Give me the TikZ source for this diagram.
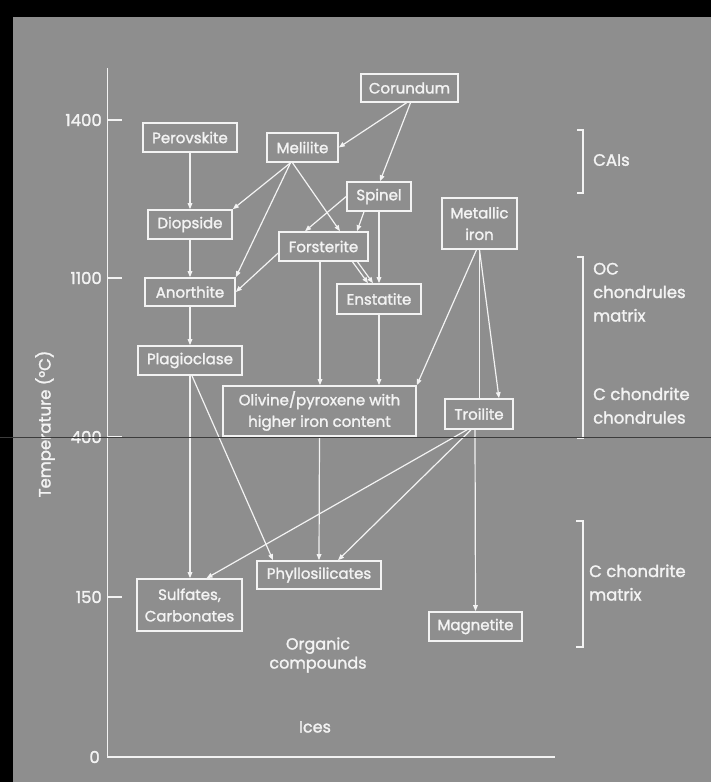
\documentclass[tikz,border=0pt]{standalone}
\usepackage{fontspec}
\setmainfont{Poppins}[FakeBold=1.6]
\usetikzlibrary{arrows.meta}
\definecolor{bg}{RGB}{142,142,142}
\definecolor{fg}{RGB}{243,243,243}
\definecolor{scanline}{RGB}{60,60,60}
\begin{document}
\begin{tikzpicture}[x=1pt,y=-1pt,
  box/.style args={#1/#2}{draw=fg, line width=1.6pt, fill=bg, text=fg,
    minimum width=#1, minimum height=#2, inner sep=0pt, align=center,
    font=\fontsize{15}{21.5}\selectfont},
  lab/.style={text=fg, inner sep=0pt, align=left, font=\fontsize{16.5}{23.5}\selectfont},
  conn/.style={draw=fg, line width=1.2pt, -{Triangle[length=6pt,width=4.6pt]}},
  plain/.style={draw=fg, line width=1.2pt},
  axis/.style={draw=fg, line width=1.8pt},
  brk/.style={draw=fg, line width=1.5pt}
]
\useasboundingbox (0,0) rectangle (711,782);
\fill[black] (0,0) rectangle (711,782);
\fill[bg] (13,17) rectangle (711,782);

% axes
\coordinate (atop) at (107.5,68);
\coordinate (aorig) at (107.5,757);
\coordinate (aend) at (555,757);
\draw[axis] (atop) -- (aorig) -- (aend);
\foreach \yy/\tt in {120/1400,278/1100,437/400,597/150}{
  \draw[axis, line width=1.4pt] (107.5,\yy) -- (122,\yy);
  \node[lab, anchor=east] at (102,\yy) {\tt};
}
\node[lab, anchor=east] (t0) at (100,757) {0};
\node[lab, rotate=90] (tlab) at (45,424) {Temperature (°C)};

% nodes
\node[box=97/28] (cor) at (409.5,88) {Corundum};
\node[box=94/29] (per) at (190,137.5) {Perovskite};
\node[box=71/29] (mel) at (302.5,147.5) {Melilite};
\node[box=64/29] (spi) at (379,196.5) {Spinel};
\node[box=75/51] (iron) at (479.5,223.5) {Metallic\\iron};
\node[box=84/29] (dio) at (190,224.5) {Diopside};
\node[box=89/29] (for) at (323.5,246.5) {Forsterite};
\node[box=90/28] (ano) at (190,292) {Anorthite};
\node[box=84/30] (ens) at (379,299) {Enstatite};
\node[box=104/29] (pla) at (190,360.5) {Plagioclase};
\node[box=193/50] (oli) at (319.5,411) {Olivine/pyroxene with\\higher iron content};
\node[box=68/30] (tro) at (479,414) {Troilite};
\node[box=124/28] (phy) at (319,575) {Phyllosilicates};
\node[box=105/52] (sul) at (189.5,605) {Sulfates,\\Carbonates};
\node[box=93/29] (mag) at (475.5,626.5) {Magnetite};

\node[lab, align=center, font=\fontsize{16}{19}\selectfont] (org) at (318,655) {Organic\\compounds};
\node[lab, font=\fontsize{16}{19}\selectfont] (ice) at (315,727) {Ices};

% connectors
\draw[conn] ([xshift=-3pt]cor.south) -- (mel.east);
\draw[conn] ([xshift=1pt]cor.south) -- ([xshift=1pt]spi.north);
\draw[conn] (per.south) -- (dio.north);
\draw[conn] ([xshift=-12pt]mel.south) -- (dio.north east);
\draw[conn] ([xshift=-12pt]mel.south) -- (ano.north east);
\draw[conn] ([xshift=-10pt]mel.south) -- ([xshift=16.5pt]for.north);
\draw[conn] (spi.west) -- ([xshift=-18.5pt]for.north);
\draw[conn] ([xshift=-15pt]spi.south) -- ([xshift=33.5pt]for.north);
\draw[conn] (spi.south) -- (ens.north);
\draw[conn] ([xshift=29pt]for.south) -- ([xshift=-11pt]ens.north);
\draw[conn] ([xshift=34pt]for.south) -- ([xshift=-6pt]ens.north);
\draw[conn] ([yshift=-6.5pt]for.west) -- (ano.east);
\draw[conn] (dio.south) -- (ano.north);
\draw[conn] (ano.south) -- (pla.north);
\draw[conn] ([xshift=-3.5pt]for.south) -- ([xshift=-3.5pt]for.south |- oli.north);
\draw[conn] (ens.south) -- (ens.south |- oli.north);
\draw[conn] ([xshift=-3pt]iron.south) -- (oli.north east);
\draw[conn] (iron.south) -- ([xshift=20pt]tro.north);
\draw[plain] (iron.south) -- (iron.south |- tro.north);
\draw[conn] ([xshift=-4pt]tro.south) -- (mag.north);
\draw[conn] (pla.south) -- (pla.south |- sul.north);
\draw[conn] ([xshift=2pt]pla.south) -- ([xshift=-46pt]phy.north);
\draw[conn] (oli.south) -- (phy.north);
\draw[conn] ([xshift=-12pt]tro.south) -- ([xshift=17pt]sul.north);
\draw[conn] ([xshift=-8pt]tro.south) -- ([xshift=19pt]phy.north);

% brackets
\draw[brk] (577,130) -- (583,130) -- (583,193) -- (577,193);
\draw[brk] (577,257) -- (583,257) -- (583,438) -- (577,438);
\draw[brk] (576,521) -- (583,521) -- (583,647) -- (576,647);
\node[lab, anchor=west] (cai) at (593,160) {CAIs};
\node[lab, anchor=base west] (occ) at (593,321.5) {OC\\chondrules\\matrix};
\node[lab, anchor=base west] (ccc) at (593,423.5) {C chondrite\\chondrules};
\node[lab, anchor=base west] (ccm) at (589,600.5) {C chondrite\\matrix};

% scan line
\draw[scanline, line width=0.9pt] (0,437) -- (711,437);
\end{tikzpicture}
\end{document}
